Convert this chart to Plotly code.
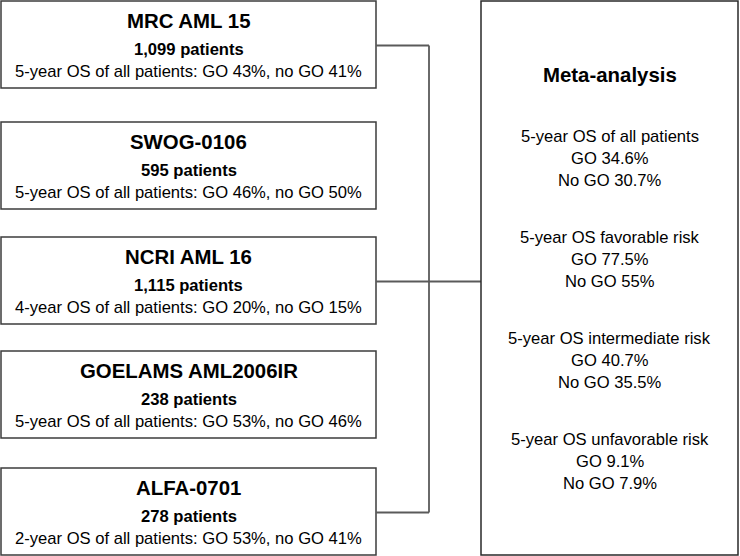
import plotly.graph_objects as go

# ---- data ----
trials = ["MRC AML 15", "SWOG-0106", "NCRI AML 16", "GOELAMS AML2006IR", "ALFA-0701"]
patients = ["1,099", "595", "1,115", "238", "278"]
os_years = [5, 5, 4, 5, 2]
go_pct = ["43", "46", "20", "53", "53"]
nogo_pct = ["41", "50", "15", "46", "41"]

meta_groups = ["of all patients", "favorable risk", "intermediate risk", "unfavorable risk"]
meta_go = ["34.6", "77.5", "40.7", "9.1"]
meta_nogo = ["30.7", "55", "35.5", "7.9"]

# ---- layout constants (pixel space) ----
W, H = 740, 556
box_x0, box_x1 = 1, 376
box_tops = [1, 122, 237, 351, 468]
box_h = 87
bus_x = 429
right_x0, right_x1, right_y0, right_y1 = 481, 738, 1, 555
meta_title_y = 75
group_y0, group_dy, line_dy = 136, 101, 22
connected = [0, 2, 4]
FONT = "Arial, Liberation Sans, sans-serif"
TITLE_SZ, SUB_SZ, TXT_SZ = 20.4, 16.6, 16.6

fig = go.Figure()
shapes, annots = [], []
cx = (box_x0 + box_x1) / 2
for i, name in enumerate(trials):
    t = box_tops[i]
    shapes.append(dict(type="rect", x0=box_x0, x1=box_x1, y0=t, y1=t + box_h,
                       line=dict(color="#3c3c3c", width=1.5), fillcolor="white", layer="above"))
    annots.append(dict(x=cx, y=t + 20, text=f"<b>{name}</b>", font=dict(size=TITLE_SZ)))
    annots.append(dict(x=cx, y=t + 48, text=f"<b>{patients[i]} patients</b>", font=dict(size=SUB_SZ)))
    annots.append(dict(x=cx, y=t + 70,
                       text=f"{os_years[i]}-year OS of all patients: GO {go_pct[i]}%, no GO {nogo_pct[i]}%",
                       font=dict(size=TXT_SZ)))

mids = [box_tops[i] + box_h / 2 + 1 for i in connected]
line_style = dict(color="#5a5a5a", width=1.8)
for j, i in enumerate(connected):
    x_end = right_x0 if i == 2 else bus_x
    shapes.append(dict(type="line", x0=box_x1, x1=x_end, y0=mids[j], y1=mids[j], line=line_style))
shapes.append(dict(type="line", x0=bus_x, x1=bus_x, y0=mids[0], y1=mids[-1], line=line_style))

shapes.append(dict(type="rect", x0=right_x0, x1=right_x1, y0=right_y0, y1=right_y1,
                   line=dict(color="#2a2a2a", width=1.5), fillcolor="rgba(0,0,0,0)", layer="above"))
rcx = (right_x0 + right_x1) / 2
annots.append(dict(x=rcx, y=meta_title_y, text="<b>Meta-analysis</b>", font=dict(size=TITLE_SZ)))
for k, g in enumerate(meta_groups):
    y = group_y0 + k * group_dy
    annots.append(dict(x=rcx, y=y, text=f"5-year OS {g}", font=dict(size=TXT_SZ)))
    annots.append(dict(x=rcx, y=y + line_dy, text=f"GO {meta_go[k]}%", font=dict(size=TXT_SZ)))
    annots.append(dict(x=rcx, y=y + 2 * line_dy, text=f"No GO {meta_nogo[k]}%", font=dict(size=TXT_SZ)))

for a in annots:
    a.update(xref="x", yref="y", showarrow=False, xanchor="center", yanchor="middle")
    a["font"].update(family=FONT, color="black")

fig.update_layout(
    width=W, height=H, margin=dict(l=0, r=0, t=0, b=0),
    paper_bgcolor="white", plot_bgcolor="white",
    xaxis=dict(range=[0, W], visible=False, fixedrange=True),
    yaxis=dict(range=[H, 0], visible=False, fixedrange=True),
    shapes=shapes, annotations=annots, showlegend=False,
)
fig.write_html("out.html", config={"displayModeBar": False},
               post_script="document.body.style.margin='0';")
